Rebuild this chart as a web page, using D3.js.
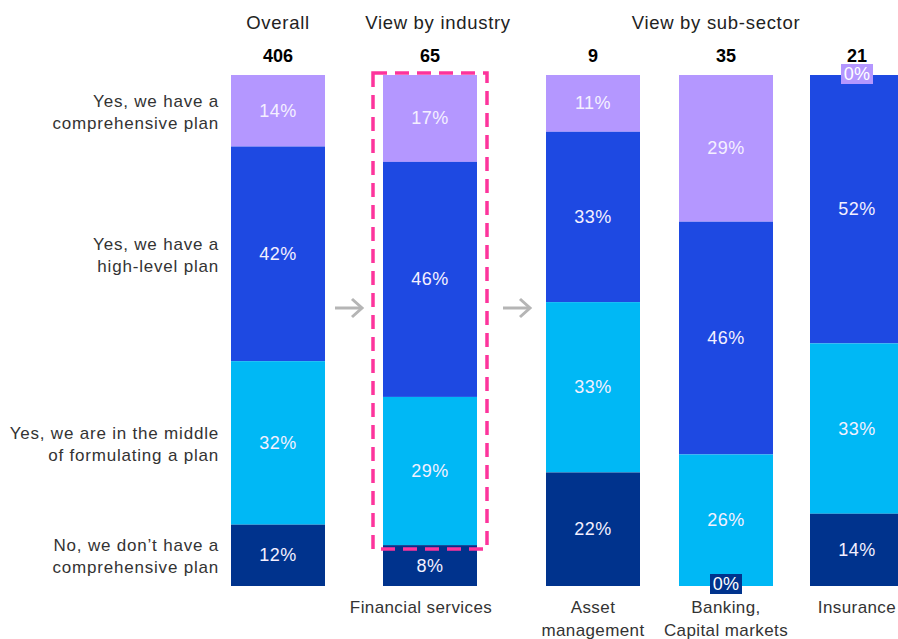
<!DOCTYPE html>
<html>
<head>
<meta charset="utf-8">
<script src="https://cdn.jsdelivr.net/npm/d3@7"></script>
<style>
  body { margin: 0; background: #fff; }
  svg text { font-family: "Liberation Sans", Arial, sans-serif; }
</style>
</head>
<body>
<svg id="chart" width="898" height="639"></svg>
<script>
// Data
const columns = ["Overall", "Financial services", "Asset management", "Banking, Capital markets", "Insurance"];
const respondents = [406, 65, 9, 35, 21];
const answers = [
	"Yes, we have a comprehensive plan",
	"Yes, we have a high-level plan",
	"Yes, we are in the middle of formulating a plan",
	"No, we don't have a comprehensive plan"
];
// share of answers (%) per column
const comprehensive = [14, 17, 11, 29, 0];
const highLevel     = [42, 46, 33, 46, 52];
const formulating   = [32, 29, 33, 26, 33];
const noPlan        = [12, 8, 22, 0, 14];

const answerLines = [
	["Yes, we have a", "comprehensive plan"],
	["Yes, we have a", "high-level plan"],
	["Yes, we are in the middle", "of formulating a plan"],
	["No, we don\u2019t have a", "comprehensive plan"]
];
const columnLines = [[""], ["Financial services"], ["Asset", "management"], ["Banking,", "Capital markets"], ["Insurance"]];
const groupTitles = ["Overall", "View by industry", "View by sub-sector"];

const colors = ["#B497FF", "#1E49E2", "#00B8F5", "#00338D"];

/////
// Layout
/////
const series = [comprehensive, highLevel, formulating, noPlan];
const svg = d3.select("#chart");
const barW = 94;
const x = d3.scaleOrdinal().domain(columns).range([231, 383, 546, 679, 810]);
const y = d3.scaleLinear().domain([0, 100]).range([75, 586]);

// stack rows
const rows = columns.map((c, i) => {
	const r = { col: c };
	answers.forEach((a, k) => { r[a] = series[k][i]; });
	return r;
});
const stacked = d3.stack().keys(answers).offset(d3.stackOffsetExpand)(rows);

const layers = svg.selectAll("g.layer")
	.data(stacked)
	.enter()
	.append("g")
	.attr("class", "layer")
	.attr("fill", (d, i) => colors[i]);

layers.selectAll("rect")
	.data(d => d)
	.enter()
	.append("rect")
	.attr("x", d => x(d.data.col))
	.attr("y", d => y(d[0] * 100))
	.attr("width", barW)
	.attr("height", d => y(d[1] * 100) - y(d[0] * 100));

// value labels
stacked.forEach((layer, k) => {
	layer.forEach(d => {
		const v = d.data[answers[k]];
		const cx = x(d.data.col) + barW / 2;
		if (v === 0) {
			// zero share: small tag at the top / bottom edge
			const yy = k === 0 ? y(0) - 11 : y(100) - 12;
			svg.append("rect")
				.attr("x", cx - 16).attr("y", yy)
				.attr("width", 32).attr("height", 20)
				.attr("fill", colors[k]);
			svg.append("text")
				.attr("x", cx).attr("y", yy + 16)
				.attr("text-anchor", "middle")
				.attr("fill", "#fff")
				.style("font-size", "18px")
				.style("letter-spacing", "0.3px")
				.text(v + "%");
			return;
		}
		const mid = (y(d[0] * 100) + y(d[1] * 100)) / 2;
		svg.append("text")
			.attr("x", cx).attr("y", mid + 6)
			.attr("text-anchor", "middle")
			.attr("fill", "#f4f0ff")
			.style("font-size", "18px")
			.style("letter-spacing", "0.5px")
			.text(v + "%");
	});
});

// counts
svg.selectAll("text.count")
	.data(columns)
	.enter()
	.append("text")
	.attr("class", "count")
	.attr("x", d => x(d) + barW / 2)
	.attr("y", 62)
	.attr("text-anchor", "middle")
	.attr("fill", "#000")
	.style("font-size", "18px")
	.style("font-weight", "bold")
	.text((d, i) => respondents[i]);

// group titles
const titleX = [x(columns[0]) + barW / 2, x(columns[1]) + barW / 2 + 8, x(columns[3]) + barW / 2 - 10];
svg.selectAll("text.title")
	.data(groupTitles)
	.enter()
	.append("text")
	.attr("class", "title")
	.attr("x", (d, i) => titleX[i])
	.attr("y", 29)
	.attr("text-anchor", "middle")
	.attr("fill", "#222")
	.style("font-size", "18.5px")
	.style("letter-spacing", "0.7px")
	.text(d => d);

// answer labels on the left, centred on the Overall segments
stacked.forEach((layer, k) => {
	const d = layer[0];
	const mid = (y(d[0] * 100) + y(d[1] * 100)) / 2;
	const t = svg.append("text")
		.attr("x", 219)
		.attr("y", mid - 4)
		.attr("text-anchor", "end")
		.attr("fill", "#333")
		.style("font-size", "17px")
		.style("letter-spacing", "0.8px");
	answerLines[k].forEach((line, j) => {
		t.append("tspan").attr("x", 219).attr("dy", j === 0 ? 0 : 22).text(line);
	});
});

// column labels at the bottom
columns.forEach((c, i) => {
	const cx = x(c) + barW / 2 - (i === 1 ? 9 : 0);
	const t = svg.append("text")
		.attr("x", cx)
		.attr("y", 613)
		.attr("text-anchor", "middle")
		.attr("fill", "#333")
		.style("font-size", "17px")
		.style("letter-spacing", "0.4px");
	columnLines[i].forEach((line, j) => {
		t.append("tspan").attr("x", cx).attr("dy", j === 0 ? 0 : 23).text(line);
	});
});

// highlight box around Financial services
svg.append("rect")
	.attr("x", x(columns[1]) - 10)
	.attr("y", 73)
	.attr("width", 114)
	.attr("height", 476)
	.attr("fill", "none")
	.attr("stroke", "#FD349C")
	.attr("stroke-width", 3.5)
	.attr("stroke-dasharray", "14,8");

// arrows
const arrowX = [335, 503];
arrowX.forEach(ax => {
	const g = svg.append("g")
		.attr("fill", "none")
		.attr("stroke", "#b5b5b5")
		.attr("stroke-width", 3);
	g.append("line").attr("x1", ax).attr("x2", ax + 26).attr("y1", 308).attr("y2", 308);
	g.append("path").attr("d", `M${ax + 17},299 L${ax + 27},308 L${ax + 17},317`);
});
</script>
</body>
</html>
